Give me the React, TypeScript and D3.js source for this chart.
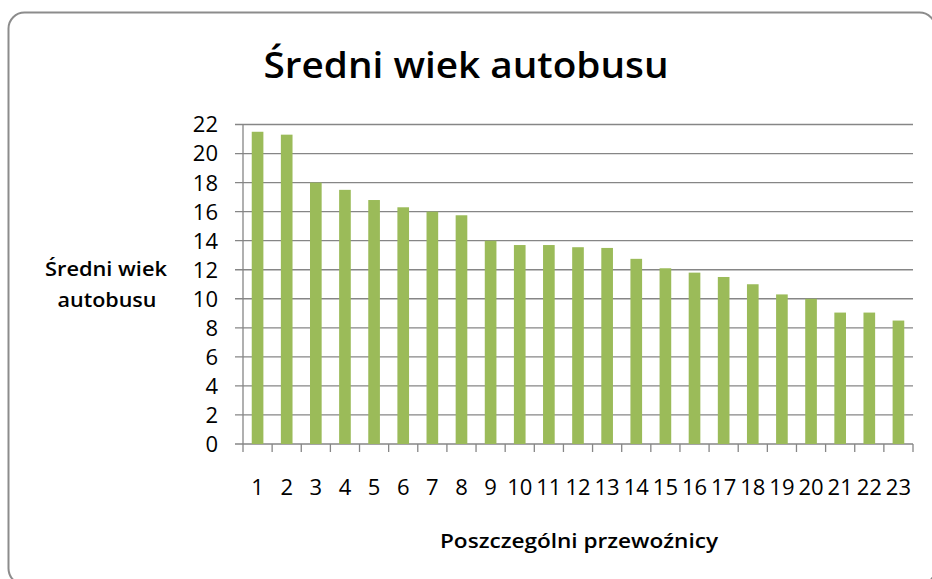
import * as d3 from "d3";

const carriers = [
  "1", "2", "3", "4", "5", "6", "7", "8", "9", "10", "11", "12",
  "13", "14", "15", "16", "17", "18", "19", "20", "21", "22", "23",
];
const avgAge = [
  21.5, 21.3, 18.0, 17.5, 16.8, 16.3, 16.0, 15.75, 14.0, 13.7, 13.7, 13.55,
  13.5, 12.75, 12.1, 11.8, 11.5, 11.0, 10.3, 10.0, 9.05, 9.05, 8.5,
];
const yTicks = [0, 2, 4, 6, 8, 10, 12, 14, 16, 18, 20, 22];

const width = 932;
const height = 579;
const font = "'Open Sans', 'Liberation Sans', sans-serif";
const gridColor = "#868686";
const barColor = "#9BBB59";

const plot = { left: 243, right: 913, top: 124.5, bottom: 444 };

export default function App() {
  const xScale = d3
    .scaleBand<string>()
    .domain(carriers)
    .range([plot.left, plot.right])
    .paddingInner(0.6)
    .paddingOuter(0.3);

  const yScale = d3.scaleLinear().domain([0, 22]).range([plot.bottom, plot.top]);

  const step = xScale.step();
  const slotEdges = d3.range(carriers.length + 1).map((i) => plot.left + i * step);

  return (
    <svg
      width={width}
      height={height}
      style={{ position: "absolute", left: 0, top: 0, background: "#fff" }}
    >
      <rect
        x={8.5}
        y={12.5}
        width={927}
        height={572}
        rx={16}
        fill="#fff"
        stroke="#8c8c8c"
        strokeWidth={2}
      />
      <text
        x={466}
        y={78}
        textAnchor="middle"
        fontFamily={font}
        fontWeight={600}
        fontSize={36}
        textLength={405}
        lengthAdjust="spacingAndGlyphs"
        fill="#000"
      >
        Średni wiek autobusu
      </text>

      {yTicks.map((t) => (
        <g key={t} transform={`translate(0,${yScale(t)})`}>
          <line x1={plot.left - 8} x2={plot.right} stroke={gridColor} strokeWidth={1.3} />
          <text
            x={218}
            dy="0.36em"
            textAnchor="end"
            fontFamily={font}
            fontSize={22}
            fill="#000"
          >
            {t}
          </text>
        </g>
      ))}

      <line
        x1={plot.left}
        x2={plot.left}
        y1={plot.top}
        y2={plot.bottom}
        stroke={gridColor}
        strokeWidth={1.3}
      />
      {slotEdges.map((x, i) => (
        <line
          key={i}
          x1={x}
          x2={x}
          y1={plot.bottom}
          y2={plot.bottom + 8}
          stroke={gridColor}
          strokeWidth={1.3}
        />
      ))}

      {carriers.map((c, i) => (
        <rect
          key={c}
          x={xScale(c)}
          y={yScale(avgAge[i])}
          width={xScale.bandwidth()}
          height={plot.bottom - yScale(avgAge[i])}
          fill={barColor}
        />
      ))}

      {carriers.map((c) => (
        <text
          key={c}
          x={(xScale(c) ?? 0) + xScale.bandwidth() / 2}
          y={495}
          textAnchor="middle"
          fontFamily={font}
          fontSize={22}
          fill="#000"
        >
          {c}
        </text>
      ))}

      <text
        x={106}
        y={276}
        textAnchor="middle"
        fontFamily={font}
        fontWeight={600}
        fontSize={20}
        textLength={122}
        lengthAdjust="spacingAndGlyphs"
        fill="#000"
      >
        Średni wiek
      </text>
      <text
        x={107}
        y={307}
        textAnchor="middle"
        fontFamily={font}
        fontWeight={600}
        fontSize={20}
        textLength={99}
        lengthAdjust="spacingAndGlyphs"
        fill="#000"
      >
        autobusu
      </text>
      <text
        x={579}
        y={548}
        textAnchor="middle"
        fontFamily={font}
        fontWeight={600}
        fontSize={20}
        textLength={278}
        lengthAdjust="spacingAndGlyphs"
        fill="#000"
      >
        Poszczególni przewoźnicy
      </text>
    </svg>
  );
}
